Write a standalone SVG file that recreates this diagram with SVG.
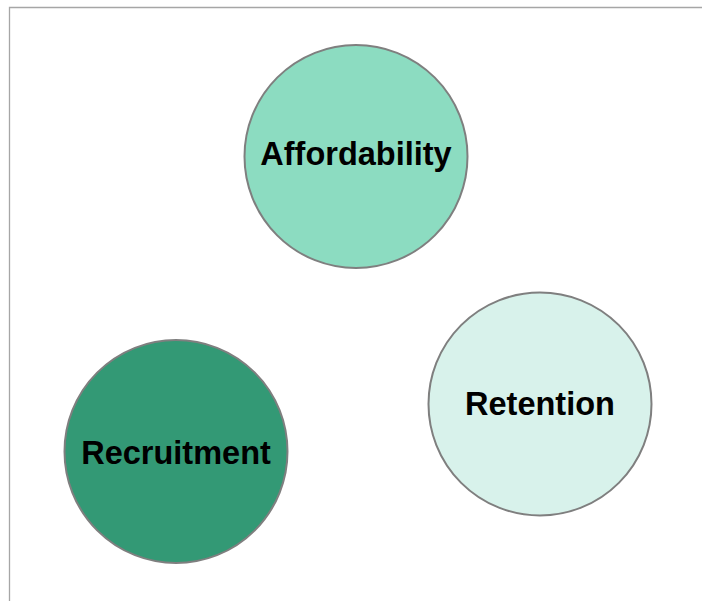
<svg xmlns="http://www.w3.org/2000/svg" width="702" height="601" viewBox="0 0 702 601">
  <style>
    .frame { fill: none; stroke: #a6a6a6; stroke-width: 1.3; }
    .node circle { stroke: #7f7f7f; stroke-width: 2; }
    .node text { font-family: "Liberation Sans", Arial, sans-serif; font-weight: bold; font-size: 32.5px; fill: #000; text-anchor: middle; }
  </style>
  <rect width="702" height="601" fill="#ffffff"/>
  <!-- page edge lines -->
  <path class="frame" d="M9.5 601 V7.5 H702"/>
  <g id="connectors"></g>
  <g id="affordability" class="node">
    <circle cx="356" cy="156.5" r="111.5" fill="#8cdcc1"/>
    <text x="356" y="165">Affordability</text>
  </g>
  <g id="recruitment" class="node">
    <circle cx="176" cy="451.5" r="111.5" fill="#339975"/>
    <text x="176" y="463.5">Recruitment</text>
  </g>
  <g id="retention" class="node">
    <circle cx="540" cy="404" r="111.5" fill="#d8f2eb"/>
    <text x="540" y="415">Retention</text>
  </g>
</svg>
